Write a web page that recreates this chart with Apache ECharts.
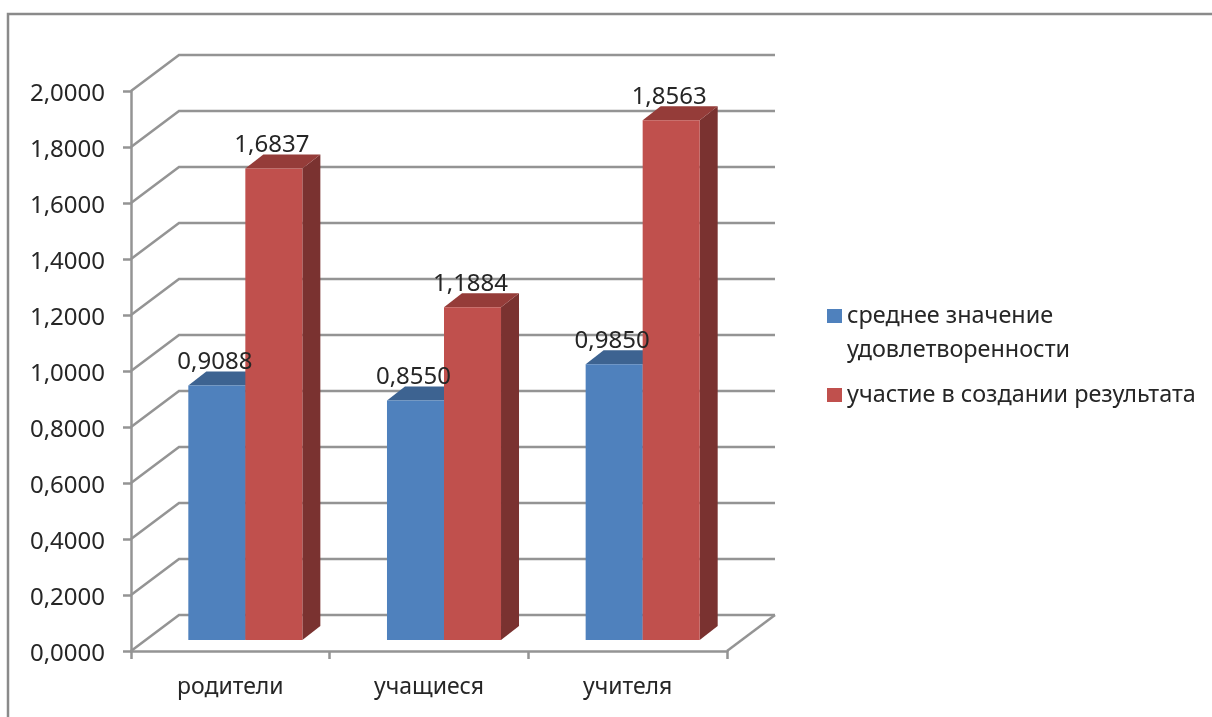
<!DOCTYPE html>
<html>
<head>
<meta charset="utf-8">
<style>html,body{margin:0;padding:0;background:#fff}#c{width:1212px;height:717px}</style>
<script src="https://cdn.jsdelivr.net/npm/echarts@6/dist/echarts.min.js"></script>
</head>
<body>
<div id="c"></div>
<script>
const categories = ['родители', 'учащиеся', 'учителя'];
const seriesNames = ['среднее значение удовлетворенности', 'участие в создании результата'];
const satisfaction = [0.9088, 0.8550, 0.9850];
const participation = [1.6837, 1.1884, 1.8563];
const yTicks = [0, 0.2, 0.4, 0.6, 0.8, 1.0, 1.2, 1.4, 1.6, 1.8, 2.0];

const FONT = '"Noto Sans", sans-serif';
const TEXT = '#262626', LINE = '#949494';
const fmt = v => v.toFixed(4).replace('.', ',');

// 3D look (pixels)
const WALL = {dx: 48, dy: -36};
const BAR = {shiftX: 15, shiftY: -11, dx: 18, dy: -14, bandFrac: 0.287};

const chart = echarts.init(document.getElementById('c'), null, {renderer: 'canvas'});

function wallItem(params, api) {
  const cs = params.coordSys;
  const v = api.value(0);
  const y = api.coord([0, v])[1];
  const x0 = cs.x, x1 = cs.x + cs.width;
  const style = {stroke: LINE, lineWidth: 2.5, fill: null};
  const children = [
    {type: 'polyline', shape: {points: [[x0, y], [x0 + WALL.dx, y + WALL.dy], [x1 + WALL.dx, y + WALL.dy]]}, style}
  ];
  if (v === 0) {
    children.push({type: 'line', shape: {x1: x1, y1: y, x2: x1 + WALL.dx, y2: y + WALL.dy}, style});
  }
  return {type: 'group', children};
}

function barItem(side, front, top, sideCol) {
  return function (params, api) {
    const c = api.value(0), v = api.value(1);
    const base = api.coord([c, 0]);
    const peak = api.coord([c, v]);
    const w = api.size([1, 0])[0] * BAR.bandFrac;
    const xl = base[0] + BAR.shiftX + (side === 0 ? -w : 0);
    const xr = xl + w;
    const yb = base[1] + BAR.shiftY;
    const yt = peak[1] + BAR.shiftY;
    return {type: 'group', children: [
      {type: 'polygon', shape: {points: [[xr, yt], [xr + BAR.dx, yt + BAR.dy], [xr + BAR.dx, yb + BAR.dy], [xr, yb]]}, style: {fill: sideCol}},
      {type: 'polygon', shape: {points: [[xl, yt], [xl + BAR.dx, yt + BAR.dy], [xr + BAR.dx, yt + BAR.dy], [xr, yt]]}, style: {fill: top}},
      {type: 'rect', shape: {x: xl, y: yt, width: w, height: yb - yt}, style: {fill: front}},
      {type: 'text', z2: 100, style: {x: (xl + xr) / 2 - 2, y: yt - 23.5, text: fmt(v), fill: TEXT, font: '24px ' + FONT, align: 'center', verticalAlign: 'middle'}}
    ]};
  };
}

const legendText = {color: TEXT, fontFamily: FONT, fontSize: 23.4, lineHeight: 34};

chart.setOption({
  animation: false,
  backgroundColor: '#fff',
  tooltip: {show: false},
  grid: {left: 131, top: 91, width: 596, height: 560, containLabel: false},
  xAxis: {
    type: 'category', data: categories,
    axisLine: {lineStyle: {color: LINE, width: 2.5}},
    axisTick: {show: true, length: 8, lineStyle: {color: LINE, width: 2.5}},
    axisLabel: {color: TEXT, fontFamily: FONT, fontSize: 23, margin: 25}
  },
  yAxis: {
    type: 'value', min: 0, max: 2, interval: 0.2,
    axisLine: {show: true, lineStyle: {color: LINE, width: 2.5}},
    axisTick: {show: true, length: 8, lineStyle: {color: LINE, width: 2.5}},
    splitLine: {show: false},
    axisLabel: {color: TEXT, fontFamily: FONT, fontSize: 24, margin: 26, verticalAlign: 'top', lineHeight: 7, formatter: fmt}
  },
  legend: [
    {
      left: 827, top: 265, orient: 'vertical', itemWidth: 15, itemHeight: 14, icon: 'rect',
      data: [{name: seriesNames[0], itemStyle: {color: '#4f81bd'}}],
      textStyle: legendText, padding: 0, selectedMode: false,
      formatter: () => ' \nсреднее значение\nудовлетворенности'
    },
    {
      left: 827, top: 378, orient: 'vertical', itemWidth: 15, itemHeight: 14, icon: 'rect',
      data: [{name: seriesNames[1], itemStyle: {color: '#c0504d'}}],
      textStyle: legendText, padding: 0, selectedMode: false
    }
  ],
  graphic: [{
    type: 'polyline', silent: true, z: -1,
    shape: {points: [[8, 717], [8, 14], [1212, 14]]},
    style: {stroke: '#8a8a8a', lineWidth: 2.5, fill: null}
  }],
  series: [
    {type: 'custom', name: 'walls', z: 1, silent: true, coordinateSystem: 'cartesian2d',
      encode: {y: 0}, data: yTicks.map(v => [v]), renderItem: wallItem},
    {type: 'custom', name: seriesNames[0], z: 2, silent: true, coordinateSystem: 'cartesian2d',
      encode: {x: 0, y: 1}, itemStyle: {color: '#4f81bd'},
      data: satisfaction.map((v, i) => [i, v]),
      renderItem: barItem(0, '#4f81bd', '#3d6391', '#37567e')},
    {type: 'custom', name: seriesNames[1], z: 2, silent: true, coordinateSystem: 'cartesian2d',
      encode: {x: 0, y: 1}, itemStyle: {color: '#c0504d'},
      data: participation.map((v, i) => [i, v]),
      renderItem: barItem(1, '#c0504d', '#953c39', '#7a3230')}
  ]
});
</script>
</body>
</html>
